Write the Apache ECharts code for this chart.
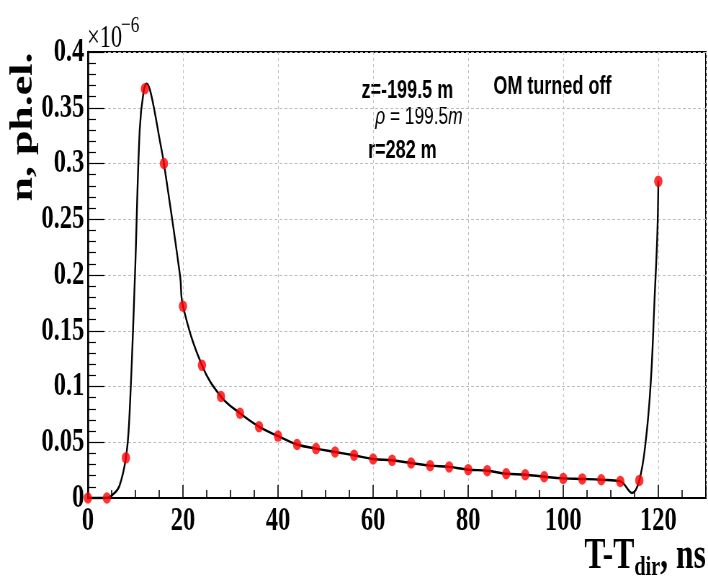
<!DOCTYPE html>
<html>
<head>
<meta charset="utf-8">
<script src="https://cdn.jsdelivr.net/npm/echarts@6/dist/echarts.min.js"></script>
<style>
  html, body { margin: 0; padding: 0; overflow: hidden; background: #fff; }
  /* the plot is laid out on a wider canvas and squeezed horizontally */
  #chart { width: 983px; height: 581px; transform: scaleX(0.72026); transform-origin: 0 0; }
</style>
</head>
<body>
<div id="chart"></div>
<script>
// Time after direct light arrival, ns (sampled points)
const timeNs = [0, 4, 8, 12, 16, 20, 24, 28, 32, 36, 40, 44, 48, 52, 56, 60,
                64, 68, 72, 76, 80, 84, 88, 92, 96, 100, 104, 108, 112, 116, 120];
// Expected number of photoelectrons, units of 1e-6
const nPhEl = [0, 0, 0.036, 0.367, 0.300, 0.172, 0.119, 0.091, 0.076, 0.064, 0.0555,
               0.048, 0.0443, 0.0413, 0.0383, 0.035, 0.0338, 0.0314, 0.029, 0.0279,
               0.0254, 0.0245, 0.0218, 0.0209, 0.0191, 0.0176, 0.0171, 0.0164, 0.0149,
               0.0158, 0.284];

// Continuous curve drawn through the samples (extra knots on the rise, peak and dip)
const curveX = [0, 4, 5.2, 6.6, 8, 8.7, 9.9, 10.9, 11.7, 12.4, 13.3, 15.2, 16, 19.4, 20, 24, 28,
                32, 36, 40, 44, 48, 52, 56, 60, 64, 68, 72, 76, 80, 84, 88, 92, 96, 100,
                104, 108, 112, 114.5, 116, 117.3, 118.4, 119.2, 119.8, 120];
const curveY = [0, 0, 0.003, 0.0104, 0.036, 0.070, 0.199, 0.330, 0.364, 0.3715, 0.362, 0.319, 0.300,
                0.199, 0.172, 0.119, 0.091, 0.076, 0.064, 0.0555, 0.048, 0.0443, 0.0413,
                0.0383, 0.035, 0.0338, 0.0314, 0.029, 0.0279, 0.0254, 0.0245, 0.0218,
                0.0209, 0.0191, 0.0176, 0.0171, 0.0164, 0.0149, 0.0045, 0.0158, 0.049,
                0.103, 0.178, 0.238, 0.284];

// Axis ranges and ticks
const xRange = [0, 130];
const xStep = 20;
const yRange = [0, 0.4];
const yStep = 0.05;

const serif = '"Liberation Serif", "Times New Roman", serif';
const sans = '"Liberation Sans", Arial, sans-serif';

const chart = echarts.init(document.getElementById('chart'));

chart.setOption({
  backgroundColor: '#ffffff',
  animation: false,
  grid: {
    left: 122, right: 3, top: 52, bottom: 83,
    show: true, borderColor: '#000', borderWidth: 2, backgroundColor: 'transparent'
  },
  xAxis: {
    type: 'value',
    min: xRange[0], max: xRange[1], interval: xStep,
    axisLine: { show: true, onZero: false, lineStyle: { color: '#000', width: 2 } },
    axisTick: { show: true, inside: true, length: 13, lineStyle: { color: '#000', width: 1.6 } },
    minorTick: { show: true, splitNumber: 4, length: 8, lineStyle: { color: '#000', width: 1.6 } },
    axisLabel: {
      show: true, margin: 6, showMaxLabel: false,
      fontFamily: serif, fontWeight: 'bold', fontSize: 34, color: '#000'
    },
    splitLine: { show: true, lineStyle: { color: '#bdbdbd', width: 1, type: [3, 3] } }
  },
  yAxis: {
    type: 'value',
    min: yRange[0], max: yRange[1], interval: yStep,
    axisLine: { show: true, onZero: false, lineStyle: { color: '#000', width: 2.5 } },
    axisTick: { show: true, inside: true, length: 23, lineStyle: { color: '#000', width: 1.2 } },
    minorTick: { show: true, splitNumber: 5, length: 11, lineStyle: { color: '#000', width: 1.2 } },
    axisLabel: {
      show: true, margin: 5,
      fontFamily: serif, fontWeight: 'bold', fontSize: 34, color: '#000',
      formatter: v => String(+v.toFixed(3))
    },
    splitLine: { show: true, lineStyle: { color: '#bdbdbd', width: 1, type: [4, 3] } }
  },
  series: [
    {
      name: 'curve',
      type: 'line',
      data: curveX.map((x, i) => [x, curveY[i]]),
      smooth: 0.4,
      symbol: 'none',
      lineStyle: { color: '#000', width: 2.4 },
      z: 2
    },
    {
      name: 'samples',
      type: 'scatter',
      data: timeNs.map((x, i) => [x, nPhEl[i]]),
      symbol: 'circle',
      symbolSize: 11.5,
      itemStyle: { color: '#ff0000' },
      z: 3
    }
  ],
  graphic: [
    {
      type: 'text', x: 33, y: 127, rotation: Math.PI / 2,
      style: {
        text: 'n, ph.el.', align: 'center', verticalAlign: 'middle',
        font: 'bold 44px ' + serif, fill: '#000'
      }
    },
    {
      type: 'text', x: 121, y: 23,
      style: { text: '×10', align: 'left', verticalAlign: 'top', font: '31px ' + serif, fill: '#000' }
    },
    {
      type: 'text', x: 168, y: 14,
      style: { text: '−6', align: 'left', verticalAlign: 'top', font: '24px ' + serif, fill: '#000' }
    },
    {
      type: 'text', x: 980, y: 582,
      style: {
        text: '{a|T-T}{b|dir}{a|, ns}', align: 'right', verticalAlign: 'bottom',
        rich: {
          a: { fontFamily: serif, fontWeight: 'bold', fontSize: 44, lineHeight: 50, verticalAlign: 'middle', fill: '#000' },
          b: { fontFamily: serif, fontWeight: 'bold', fontSize: 28, lineHeight: 28, verticalAlign: 'bottom', fill: '#000' }
        }
      }
    },
    {
      type: 'text', x: 502, y: 90.7,
      style: { text: 'z=-199.5 m', verticalAlign: 'middle', font: 'bold 25px ' + sans, fill: '#000' }
    },
    {
      type: 'text', x: 685, y: 87,
      style: { text: 'OM turned off', verticalAlign: 'middle', font: 'bold 25px ' + sans, fill: '#000' }
    },
    {
      type: 'text', x: 521, y: 117.5,
      style: {
        text: '{i|ρ}{n| = 199.5}{i|m}', verticalAlign: 'middle',
        rich: {
          i: { fontFamily: sans, fontStyle: 'italic', fontSize: 24, fill: '#000' },
          n: { fontFamily: sans, fontSize: 24, fill: '#000' }
        }
      }
    },
    {
      type: 'text', x: 511, y: 151,
      style: { text: 'r=282 m', verticalAlign: 'middle', font: 'bold 25px ' + sans, fill: '#000' }
    }
  ]
});
</script>
</body>
</html>
